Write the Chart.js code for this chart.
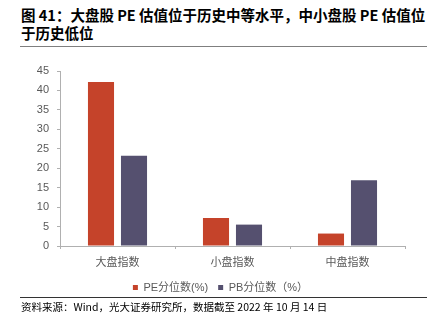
<!DOCTYPE html>
<html>
<head>
<meta charset="utf-8">
<script src="https://cdn.jsdelivr.net/npm/chart.js@4"></script>
<style>
  body { margin: 0; background: #fff; width: 441px; height: 329px; position: relative; overflow: hidden; }
  #title { position: absolute; left: 21px; top: 6px; width: 415px; font: bold 14.5px "Noto Sans CJK SC"; line-height: 18px; color: #000; }
  #titleLine { position: absolute; left: 20px; top: 46px; width: 407px; height: 0; border-top: 1.5px solid #7f7f7f; }
  #wrap { position: absolute; left: 0; top: 50px; width: 441px; height: 253px; }
  #footLine { position: absolute; left: 20px; top: 297px; width: 407px; height: 0; border-top: 1px solid #333; }
  #foot { position: absolute; left: 21px; top: 299px; font: 10.5px "Noto Sans CJK SC"; color: #000; white-space: nowrap; }
</style>
</head>
<body>
<div id="title">图 41：大盘股 PE 估值位于历史中等水平，中小盘股 PE 估值位于历史低位</div>
<div id="titleLine"></div>
<div id="wrap"><canvas id="myChart" width="441" height="253"></canvas></div>
<div id="footLine"></div>
<div id="foot">资料来源：Wind，光大证券研究所，数据截至 2022 年 10 月 14 日</div>
<script>
var categories = ['大盘指数', '小盘指数', '中盘指数'];
var peValues = [42.2, 7.2, 3.2];
var pbValues = [23.2, 5.5, 16.9];
var yTicks = [0, 5, 10, 15, 20, 25, 30, 35, 40, 45];

var axisColor = '#b0b0b0';
var labelColor = '#595959';

var ctx = document.getElementById('myChart').getContext('2d');
var myChart = new Chart(ctx, {
    type: 'bar',
    data: {
        labels: categories,
        datasets: [{
            label: 'PE分位数(%)',
            data: peValues,
            backgroundColor: '#c5432a'
        }, {
            label: 'PB分位数（%）',
            data: pbValues,
            backgroundColor: '#55506f'
        }]
    },
    options: {
        responsive: false,
        animation: false,
        categoryPercentage: 0.574,
        barPercentage: 0.79,
        layout: { padding: { top: 21, right: 0, left: 0, bottom: 0 } },
        plugins: {
            tooltip: { enabled: false },
            legend: {
                position: 'bottom',
                labels: {
                    boxWidth: 5,
                    boxHeight: 5,
                    padding: 10,
                    color: labelColor,
                    font: { family: '"Liberation Sans", "Noto Sans CJK SC"', size: 11 }
                }
            }
        },
        scales: {
            x: {
                afterFit: function(scale) { scale.height = 26; },
                grid: { display: true, drawOnChartArea: false, tickLength: 3, color: axisColor },
                border: { color: axisColor },
                ticks: { color: labelColor, padding: 6, font: { family: '"Noto Sans CJK SC"', size: 11 } }
            },
            y: {
                min: 0,
                max: yTicks[yTicks.length - 1],
                afterFit: function(scale) { scale.width = 60; },
                afterBuildTicks: function(scale) {
                    scale.ticks = yTicks.map(function(v) { return { value: v }; });
                },
                grid: { display: true, drawOnChartArea: false, tickLength: 3, color: axisColor },
                border: { color: axisColor },
                ticks: { color: labelColor, padding: 8, font: { family: '"Liberation Sans"', size: 11 } }
            },
            // empty right-hand space so the legend stays centred on the whole width
            yr: {
                position: 'right',
                afterFit: function(scale) { scale.width = 36; },
                grid: { display: false },
                border: { display: false },
                ticks: { display: false }
            }
        }
    }
});
</script>
</body>
</html>
